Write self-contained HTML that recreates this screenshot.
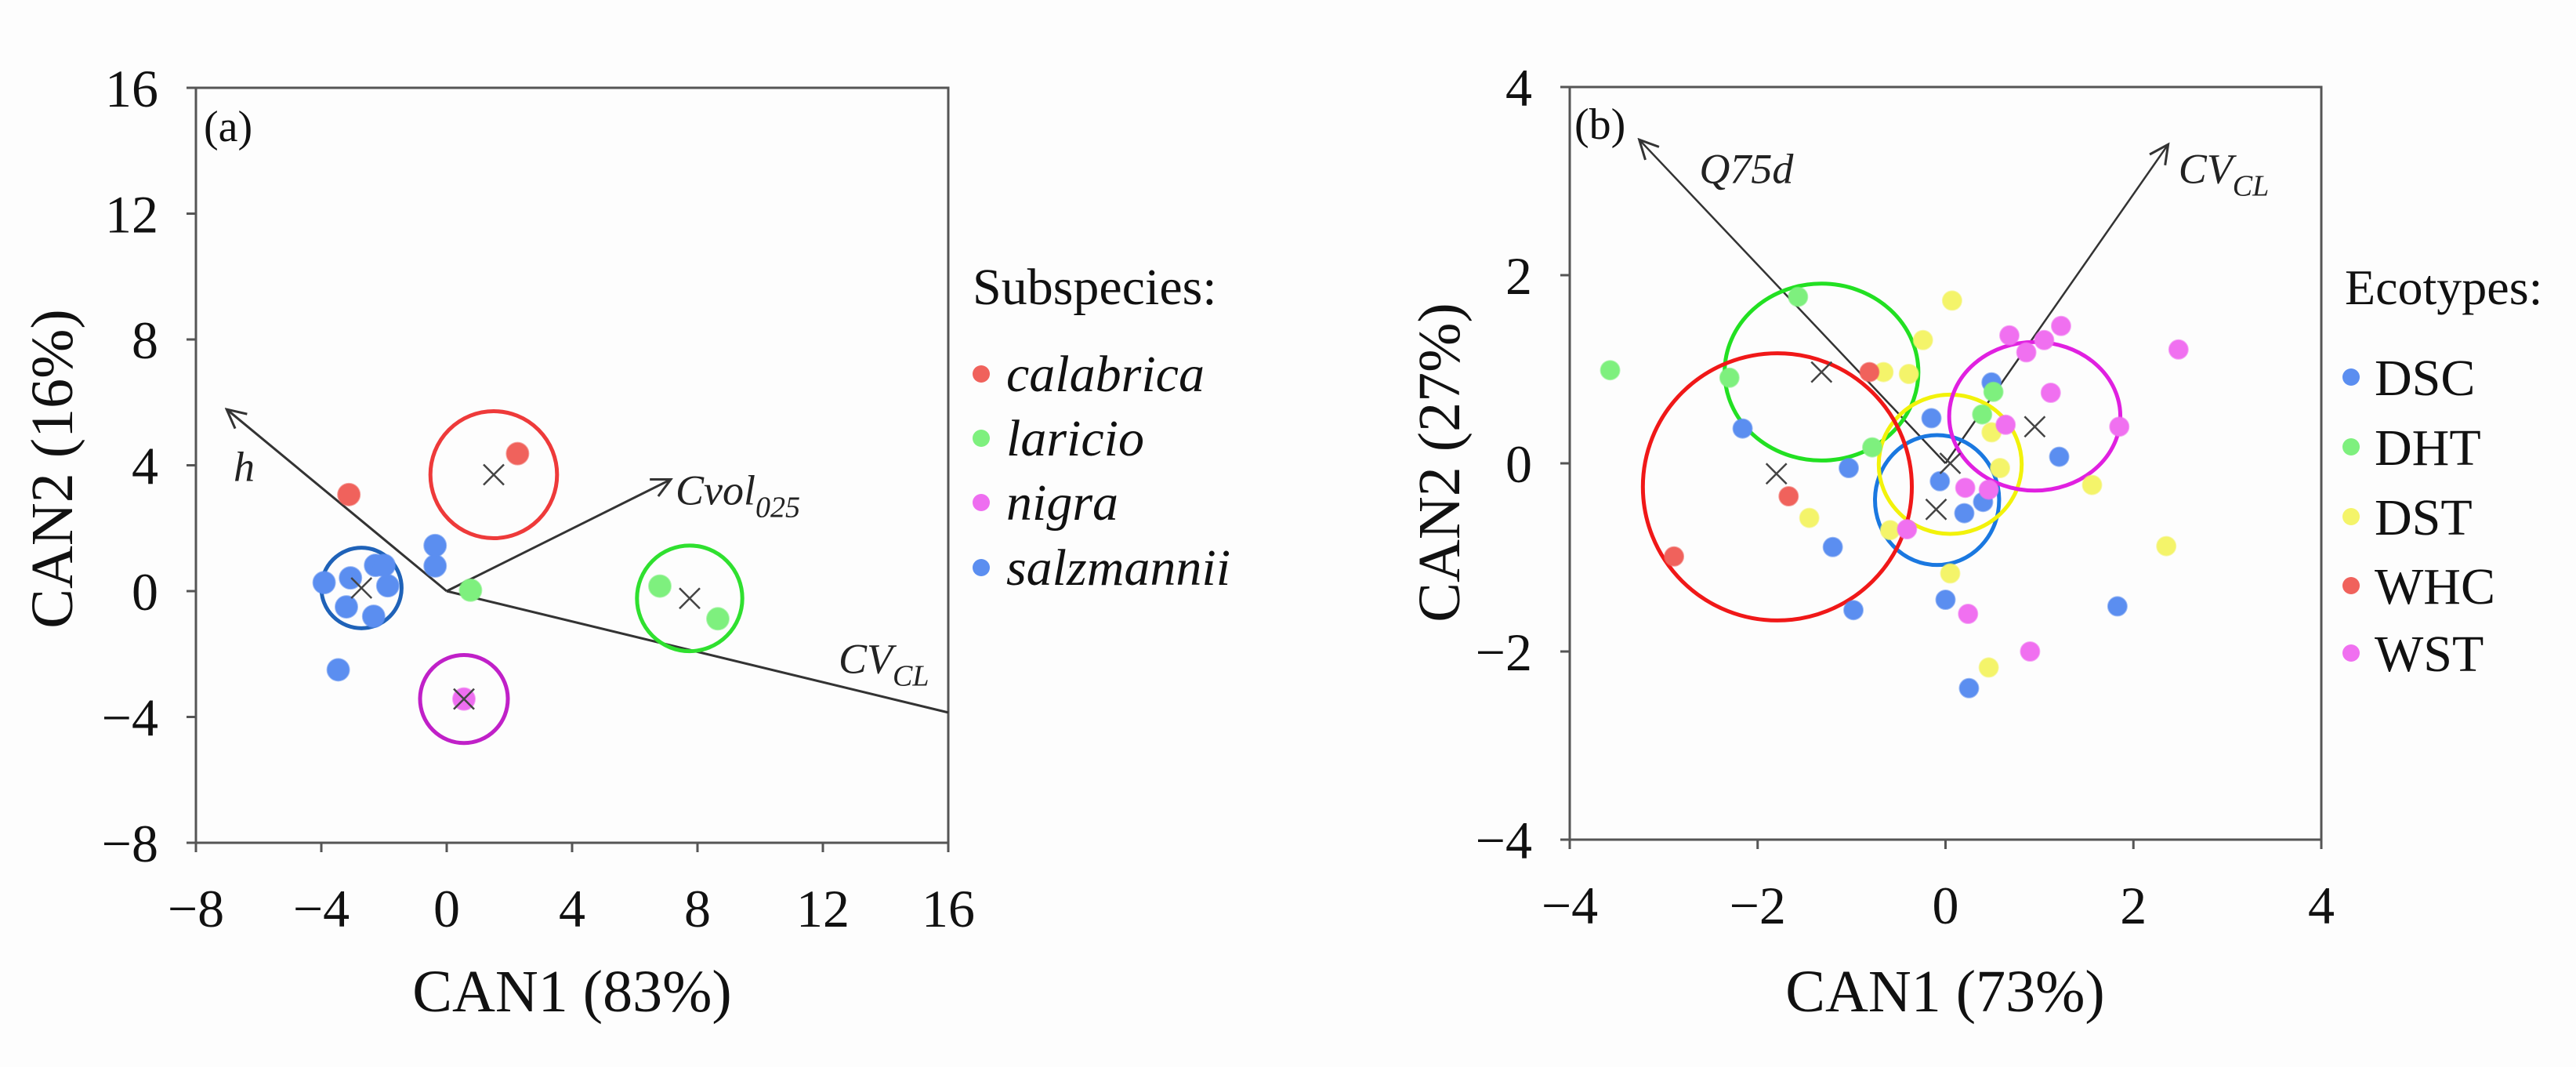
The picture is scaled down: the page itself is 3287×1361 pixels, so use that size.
<!DOCTYPE html>
<html><head><meta charset="utf-8"><style>
html,body{margin:0;padding:0;background:#fdfdfd;}
svg{display:block;font-family:"Liberation Serif","DejaVu Serif",serif;}
svg text{font-family:"Liberation Serif","DejaVu Serif",serif;}
</style></head><body>
<svg id="fig" width="3287" height="1361" viewBox="0 0 3287 1361" xmlns="http://www.w3.org/2000/svg">
<rect x="0" y="0" width="3287" height="1361" fill="#fdfdfd"/>
<defs>
<marker id="ah" viewBox="0 0 20 20" refX="18" refY="10" markerWidth="30" markerHeight="30" markerUnits="userSpaceOnUse" orient="auto"><path d="M2,2 L18,10 L2,18" fill="none" stroke="#333" stroke-width="2"/></marker>
</defs>
<g id="pa"></g>
<g id="pb"></g>
</svg>
<script>
// ---------- Panel (a) data ----------
const aGroups = ["calabrica","laricio","nigra","salzmannii"];
const aColors = ["#f0625c","#7ef07e","#ee6ef0","#5b8ef0"];
const aRing = ["#ee3a3a","#2fe02f","#c020c8","#1f62b8"];
const aPtsX = [[-3.12,2.26],[6.8,8.65,0.76],[0.55],[-3.91,-3.07,-3.2,-2.33,-2.27,-2.0,-1.88,-0.37,-0.37,-3.46]];
const aPtsY = [[3.07,4.37],[0.16,-0.88,0.03],[-3.43],[0.27,0.42,-0.5,-0.8,0.82,0.82,0.17,1.45,0.8,-2.5]];
const aCentX = [1.5,7.75,0.55,-2.72];
const aCentY = [3.7,-0.23,-3.43,0.1];
const aRad = [2.02,1.68,1.4,1.28];
const aVecNames = ["h","Cvol025","CVCL"];
const aVecX = [-7.02,7.15,16];
const aVecY = [5.78,3.55,-3.86];
const aXTicks = [-8,-4,0,4,8,12,16];
const aYTicks = [16,12,8,4,0,-4,-8];
// ---------- Panel (b) data ----------
const bGroups = ["DSC","DHT","DST","WHC","WST"];
const bColors = ["#5b8ef0","#7ef07e","#f4f46a","#f0625c","#f070f0"];
const bRing = ["#1a78e0","#22e022","#f2f20a","#f01818","#e020e0"];
const bPtsX = [
 [-2.16,-1.03,-1.2,-0.98,-0.15,-0.06,0.2,0.4,0.49,1.21,0.0,0.25,1.83],
 [-3.57,-2.3,-1.57,-0.78,0.51,0.39],
 [0.07,-0.24,-0.66,-0.39,0.49,0.58,1.56,-1.45,-0.59,0.05,2.35,0.46],
 [-2.89,-1.67,-0.81],
 [0.68,0.86,1.05,1.23,2.48,1.12,0.64,1.85,0.21,0.46,-0.41,0.24,0.9]];
const bPtsY = [
 [0.37,-0.05,-0.89,-1.56,0.48,-0.19,-0.53,-0.41,0.86,0.07,-1.45,-2.39,-1.52],
 [0.99,0.91,1.77,0.17,0.76,0.52],
 [1.73,1.31,0.97,0.95,0.33,-0.05,-0.23,-0.58,-0.71,-1.17,-0.88,-2.17],
 [-0.99,-0.35,0.97],
 [1.36,1.18,1.31,1.46,1.21,0.75,0.41,0.39,-0.26,-0.28,-0.7,-1.6,-2.0]];
const bCentX = [-0.1,-1.32,0.05,-1.8,0.95];
const bCentY = [-0.49,0.97,0.0,-0.11,0.39];
const bRingX = [-0.09,-1.32,0.05,-1.79,0.95];
const bRingY = [-0.39,0.97,-0.01,-0.25,0.5];
const bRingRx = [0.66,1.03,0.76,1.43,0.91];
const bRingRy = [0.69,0.94,0.74,1.42,0.79];
const bVecNames = ["Q75d","CVCL"];
const bVecX = [-3.26,2.37];
const bVecY = [3.44,3.39];
const bXTicks = [-4,-2,0,2,4];
const bYTicks = [4,2,0,-2,-4];

const NS="http://www.w3.org/2000/svg";
const FF='"Liberation Serif", "DejaVu Serif", serif';
function mk(parent,tag,attrs,text){const e=document.createElementNS(NS,tag);for(const k in attrs)e.setAttribute(k,attrs[k]);if(tag==='text')e.setAttribute('font-family',FF);if(text!==undefined)e.textContent=text;parent.appendChild(e);return e;}

function axes(g,L,R,T,B,xmin,xmax,ymin,ymax,xt,yt){
  const sx=v=>L+(v-xmin)/(xmax-xmin)*(R-L);
  const sy=v=>B-(v-ymin)/(ymax-ymin)*(B-T);
  const fr=mk(g,'rect',{x:L,y:T,width:R-L,height:B-T,fill:'none',stroke:'#555','stroke-width':3});
  
  
  xt.forEach(v=>{
    const t=mk(g,'line',{x1:sx(v),x2:sx(v),y1:B,y2:B+12,stroke:'#555','stroke-width':3});
    
    
    const l=mk(g,'text',{x:sx(v),y:B+107,'font-size':68,'text-anchor':'middle',fill:'#111'},(v<0?'\u2212':'')+Math.abs(v));
    
    
  });
  yt.forEach(v=>{
    const t=mk(g,'line',{x1:L-12,x2:L,y1:sy(v),y2:sy(v),stroke:'#555','stroke-width':3});
    
    
    const l=mk(g,'text',{x:L-48,y:sy(v)+24,'font-size':68,'text-anchor':'end',fill:'#111'},(v<0?'\u2212':'')+Math.abs(v));
    
    
  });
  return [sx,sy];
}
function cross(g,x,y){
  const c=mk(g,'path',{d:`M${x-13},${y-13}L${x+13},${y+13}M${x+13},${y-13}L${x-13},${y+13}`,stroke:'#444','stroke-width':2.5,fill:'none'});
  
  
}
function vecLabel(g,x,y,main,sub){
  const t=mk(g,'text',{x:x,y:y,'font-size':54,'font-style':'italic',fill:'#222'});
  
  
  mk(t,'tspan',{},main);
  if(sub) mk(t,'tspan',{dy:16,'font-size':38},sub);
}

// ---------- Panel a ----------
(function(){
  const g=document.getElementById('pa');
  const [sx,sy]=axes(g,250,1210,112,1075,-8,16,-8,16,aXTicks,aYTicks);
  const lab=mk(g,'text',{x:sx(-7.75),y:sy(14.3),'font-size':56,fill:'#111'},'(a)');
  
  
  aVecX.forEach((vx,i)=>{
    const ln=mk(g,'line',{x1:sx(0),y1:sy(0),x2:sx(vx),y2:sy(aVecY[i]),stroke:'#333','stroke-width':3});
    if(i<2) ln.setAttribute('marker-end','url(#ah)');
    
    
  });
  vecLabel(g,sx(-6.8),sy(3.5),'h');
  vecLabel(g,sx(7.3),sy(2.75),'Cvol','025');
  vecLabel(g,sx(12.5),sy(-2.6),'CV','CL');
  aCentX.forEach((cx,i)=>{
    const c=mk(g,'ellipse',{cx:sx(cx),cy:sy(aCentY[i]),rx:aRad[i]*40,ry:aRad[i]*40.1,fill:'none',stroke:aRing[i],'stroke-width':5});
    
    
  });
  aPtsX.forEach((arr,i)=>arr.forEach((x,j)=>{
    const p=mk(g,'circle',{cx:sx(x),cy:sy(aPtsY[i][j]),r:14,fill:aColors[i],stroke:aColors[i],'stroke-opacity':0.6,'stroke-width':2});
    
    
  }));
  aCentX.forEach((cx,i)=>cross(g,sx(cx),sy(aCentY[i])));
  const xt=mk(g,'text',{x:730,y:1290,'font-size':76,'text-anchor':'middle',fill:'#111'},'CAN1 (83%)');
  
  
  const yt=mk(g,'text',{x:0,y:0,'font-size':76,'text-anchor':'middle',fill:'#111',transform:'translate(92,598) rotate(-90)'},'CAN2 (16%)');
  
  
  const lt=mk(g,'text',{x:1241,y:388,'font-size':66,fill:'#111'},'Subspecies:');
  
  
  const ly=[477,559,641,724];
  aGroups.forEach((n,i)=>{
    const m=mk(g,'circle',{cx:1252,cy:ly[i],r:11,fill:aColors[i]});
    
    
    const t=mk(g,'text',{x:1284,y:ly[i]+22,'font-size':66,'font-style':'italic',fill:'#111'},n);
    
    
  });
})();

// ---------- Panel b ----------
(function(){
  const g=document.getElementById('pb');
  const [sx,sy]=axes(g,2003,2962,111,1071,-4,4,-4,4,bXTicks,bYTicks);
  const lab=mk(g,'text',{x:sx(-3.95),y:sy(3.45),'font-size':56,fill:'#111'},'(b)');
  
  
  bVecX.forEach((vx,i)=>{
    const ln=mk(g,'line',{x1:sx(0),y1:sy(0),x2:sx(vx),y2:sy(bVecY[i]),stroke:'#333','stroke-width':2.5,'marker-end':'url(#ah)'});
    
    
  });
  vecLabel(g,sx(-2.62),sy(2.98),'Q75d');
  vecLabel(g,sx(2.48),sy(2.98),'CV','CL');
  bRingX.forEach((cx,i)=>{
    const c=mk(g,'ellipse',{cx:sx(cx),cy:sy(bRingY[i]),rx:bRingRx[i]*120,ry:bRingRy[i]*120,fill:'none',stroke:bRing[i],'stroke-width':5});
    
    
  });
  bPtsX.forEach((arr,i)=>arr.forEach((x,j)=>{
    const p=mk(g,'circle',{cx:sx(x),cy:sy(bPtsY[i][j]),r:12,fill:bColors[i],stroke:bColors[i],'stroke-opacity':0.6,'stroke-width':2});
    
    
  }));
  bCentX.forEach((cx,i)=>cross(g,sx(cx),sy(bCentY[i])));
  const xt=mk(g,'text',{x:2482,y:1290,'font-size':76,'text-anchor':'middle',fill:'#111'},'CAN1 (73%)');
  
  
  const yt=mk(g,'text',{x:0,y:0,'font-size':76,'text-anchor':'middle',fill:'#111',transform:'translate(1862,590) rotate(-90)'},'CAN2 (27%)');
  
  
  const lt=mk(g,'text',{x:2992,y:388,'font-size':64,fill:'#111'},'Ecotypes:');
  
  
  const ly=[481,570,659,747,833];
  bGroups.forEach((n,i)=>{
    const m=mk(g,'circle',{cx:3000,cy:ly[i],r:11,fill:bColors[i]});
    
    
    const t=mk(g,'text',{x:3030,y:ly[i]+23,'font-size':66,fill:'#111'},n);
    
    
  });
})();
</script>
</body></html>
